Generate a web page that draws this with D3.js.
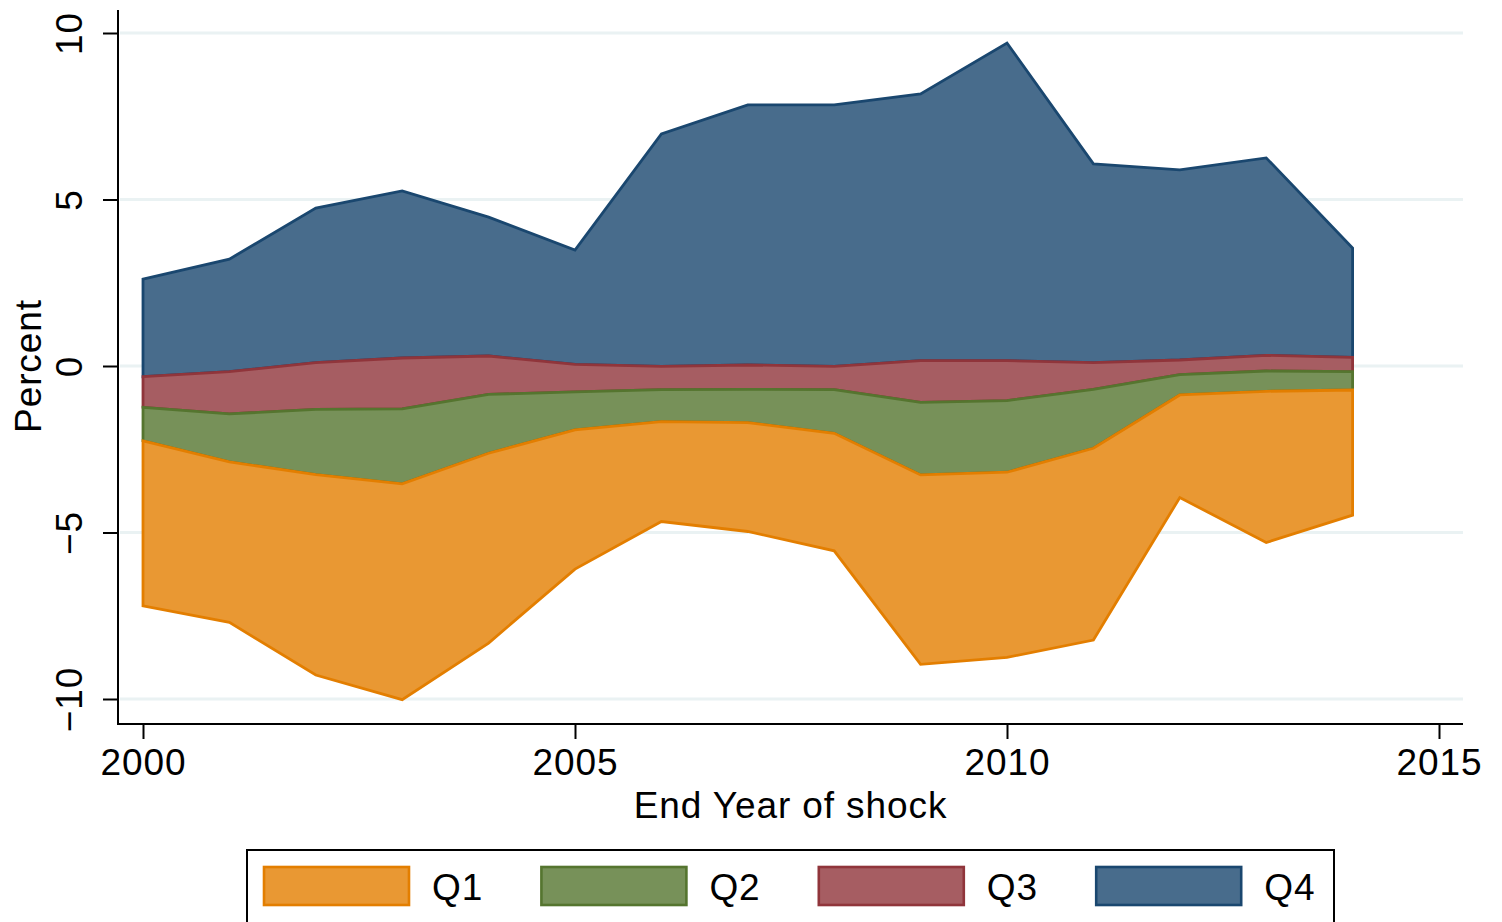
<!DOCTYPE html>
<html>
<head>
<meta charset="utf-8">
<script src="https://cdn.jsdelivr.net/npm/d3@7"></script>
<style>
  body { margin: 0; background: #fff; }
  text { font-family: "Liberation Sans", Arial, sans-serif; fill: #000; }
</style>
</head>
<body>
<div id="chartArea"></div>
<script>
// boundaries of the bands (percent)
var years = [2000, 2001, 2002, 2003, 2004, 2005, 2006, 2007, 2008, 2009, 2010, 2011, 2012, 2013, 2014];
var q4Top = [2.61, 3.21, 4.74, 5.26, 4.47, 3.48, 6.97, 7.84, 7.84, 8.17, 9.70, 6.07, 5.89, 6.25, 3.54];
var q3Top = [-0.32, -0.17, 0.10, 0.24, 0.30, 0.05, -0.01, 0.03, -0.01, 0.16, 0.16, 0.10, 0.18, 0.32, 0.26];
var q2Top = [-1.24, -1.44, -1.30, -1.29, -0.85, -0.78, -0.71, -0.70, -0.71, -1.09, -1.04, -0.70, -0.26, -0.15, -0.17];
var q1Top = [-2.25, -2.88, -3.26, -3.54, -2.62, -1.92, -1.67, -1.70, -2.02, -3.27, -3.19, -2.47, -0.87, -0.76, -0.72];
var q1Bottom = [-7.20, -7.70, -9.28, -10.02, -8.32, -6.10, -4.67, -4.97, -5.55, -8.96, -8.75, -8.23, -3.95, -5.30, -4.48];

var seriesNames = ['Q1', 'Q2', 'Q3', 'Q4'];
var yTicks = [-10, -5, 0, 5, 10];
var xTicks = [2000, 2005, 2010, 2015];

var lines = {fill: ['#e99833', '#779159', '#a65d62', '#486c8c'],
             stroke: ['#e37e00', '#55752f', '#90353b', '#1a476f']};

var bands = [
    {name: 'Q1', lo: q1Bottom, hi: q1Top, i: 0},
    {name: 'Q2', lo: q1Top, hi: q2Top, i: 1},
    {name: 'Q3', lo: q2Top, hi: q3Top, i: 2},
    {name: 'Q4', lo: q3Top, hi: q4Top, i: 3}
];

var W = 1502, H = 922;
var fontSize = '37px', spacing = '0.9px';

var svg = d3.select('#chartArea').append('svg')
    .attr('width', W)
    .attr('height', H);

var xScale = d3.scaleLinear().domain([2000, 2015]).range([143, 1439]);
var yScale = d3.scaleLinear().domain([-10, 10]).range([699, 33]);

var plotLeft = 118, plotRight = 1463, plotTop = 10, plotBottom = 724;

// gridlines
svg.append('g')
    .selectAll('line')
    .data(yTicks)
    .enter()
    .append('line')
    .attr('x1', plotLeft + 2)
    .attr('x2', plotRight)
    .attr('y1', function(d) { return yScale(d); })
    .attr('y2', function(d) { return yScale(d); })
    .attr('stroke', '#eaf2f3')
    .attr('stroke-width', 3);

// bands, Q4 first so the lower outlines sit on top
var area = d3.area()
    .x(function(d) { return xScale(d.x); })
    .y0(function(d) { return yScale(d.lo); })
    .y1(function(d) { return yScale(d.hi); });

svg.append('g')
    .selectAll('path')
    .data(bands.slice().reverse())
    .enter()
    .append('path')
    .attr('d', function(b) {
        return area(years.map(function(y, k) {
            return {x: y, lo: b.lo[k], hi: b.hi[k]};
        }));
    })
    .attr('fill', function(b) { return lines.fill[b.i]; })
    .attr('stroke', function(b) { return lines.stroke[b.i]; })
    .attr('stroke-width', 2.8)
    .attr('stroke-linejoin', 'miter');

// y axis
var yAxis = d3.axisLeft(yScale)
    .tickValues(yTicks)
    .tickSize(15)
    .tickFormat(d3.format('d'));

var gy = svg.append('g')
    .attr('transform', 'translate(' + plotLeft + ', 0)')
    .call(yAxis);
gy.select('.domain').remove();
gy.selectAll('.tick line').attr('stroke', '#000').attr('stroke-width', 2);
gy.selectAll('.tick text')
    .attr('x', null).attr('dy', null)
    .attr('transform', 'translate(-36, 0) rotate(-90)')
    .attr('text-anchor', 'middle')
    .style('font-size', fontSize)
    .style('letter-spacing', spacing)
    .style('font-family', '"Liberation Sans", Arial, sans-serif');
gy.append('line')
    .attr('x1', 0).attr('x2', 0)
    .attr('y1', plotTop).attr('y2', plotBottom + 1)
    .attr('stroke', '#000').attr('stroke-width', 2);

// x axis
var xAxis = d3.axisBottom(xScale)
    .tickValues(xTicks)
    .tickSize(15)
    .tickFormat(d3.format('d'));

var gx = svg.append('g')
    .attr('transform', 'translate(0, ' + plotBottom + ')')
    .call(xAxis);
gx.select('.domain').remove();
gx.selectAll('.tick line').attr('stroke', '#000').attr('stroke-width', 2);
gx.selectAll('.tick text')
    .attr('y', 51).attr('dy', null)
    .style('font-size', fontSize)
    .style('letter-spacing', spacing)
    .style('font-family', '"Liberation Sans", Arial, sans-serif');
gx.append('line')
    .attr('x1', plotLeft - 1).attr('x2', plotRight)
    .attr('y1', 0).attr('y2', 0)
    .attr('stroke', '#000').attr('stroke-width', 2);

// axis titles
svg.append('text')
    .attr('x', (plotLeft + plotRight) / 2)
    .attr('y', 818)
    .attr('text-anchor', 'middle')
    .style('font-size', fontSize)
    .style('letter-spacing', spacing)
    .text('End Year of shock');

svg.append('text')
    .attr('transform', 'translate(41, 366) rotate(-90)')
    .attr('text-anchor', 'middle')
    .style('font-size', fontSize)
    .style('letter-spacing', spacing)
    .text('Percent');

// legend
var legend = svg.append('g');
legend.append('rect')
    .attr('x', 247).attr('y', 850)
    .attr('width', 1087).attr('height', 80)
    .attr('fill', '#fff')
    .attr('stroke', '#000')
    .attr('stroke-width', 2);

var items = legend.selectAll('g.item')
    .data(seriesNames)
    .enter()
    .append('g')
    .attr('class', 'item')
    .attr('transform', function(d, i) { return 'translate(' + (264 + i * 277.4) + ', 867)'; });

items.append('rect')
    .attr('width', 145).attr('height', 38)
    .attr('fill', function(d, i) { return lines.fill[i]; })
    .attr('stroke', function(d, i) { return lines.stroke[i]; })
    .attr('stroke-width', 2.6);

items.append('text')
    .attr('x', 168).attr('y', 33)
    .style('font-size', fontSize)
    .style('letter-spacing', spacing)
    .text(function(d) { return d; });
</script>
</body>
</html>
